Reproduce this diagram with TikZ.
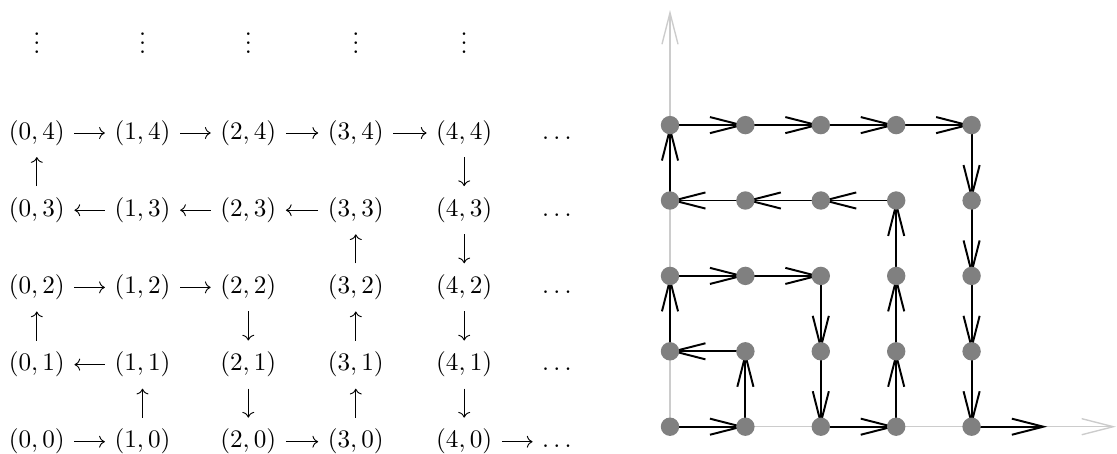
\documentclass[tikz,border=0pt,11pt]{standalone}
\usepackage{amsmath}
\usetikzlibrary{arrows.meta,backgrounds}
\definecolor{axisgray}{gray}{0.8}
\definecolor{dotgray}{gray}{0.5}
\tikzset{
  pairnode/.style={inner sep=0pt, text height=8.2pt, text depth=2.75pt},
  vdotnode/.style={inner sep=0pt, anchor=base},
  cellarrow/.style={-{To}, line width=0.4pt, shorten <=4pt, shorten >=4pt},
  colarrow/.style={-{To}, line width=0.4pt, shorten <=4.8pt, shorten >=4.8pt},
  latticept/.style={circle, fill=dotgray, inner sep=0pt, minimum size=8pt},
  walkarrow/.style={-{Straight Barb[length=13.7pt,width=7pt]}, line width=0.85pt},
  axisarrow/.style={-{Straight Barb[length=13.7pt,width=7pt]}, line width=0.6pt, draw=axisgray}
}

\begin{document}
\begin{tikzpicture}[x=0.4348pt, y=-0.4348pt]
  \useasboundingbox (0,0) rectangle (1117,453);
  % left: the table of pairs
  \node[vdotnode] (vd0) at (36.8,53.5) {$\vdots$};
  \node[vdotnode] (vd1) at (142.5,53.5) {$\vdots$};
  \node[vdotnode] (vd2) at (248.3,53.5) {$\vdots$};
  \node[vdotnode] (vd3) at (355.8,53.5) {$\vdots$};
  \node[vdotnode] (vd4) at (464.2,53.5) {$\vdots$};
  \node[pairnode] (c04) at (36.8,133) {$(0,4)$};
  \node[pairnode] (c14) at (142.5,133) {$(1,4)$};
  \node[pairnode] (c24) at (248.3,133) {$(2,4)$};
  \node[pairnode] (c34) at (355.8,133) {$(3,4)$};
  \node[pairnode] (c44) at (464.2,133) {$(4,4)$};
  \node[pairnode] (dd4) at (559,133) {$\dots$};
  \node[pairnode] (c03) at (36.8,210.2) {$(0,3)$};
  \node[pairnode] (c13) at (142.5,210.2) {$(1,3)$};
  \node[pairnode] (c23) at (248.3,210.2) {$(2,3)$};
  \node[pairnode] (c33) at (355.8,210.2) {$(3,3)$};
  \node[pairnode] (c43) at (464.2,210.2) {$(4,3)$};
  \node[pairnode] (dd3) at (559,210.2) {$\dots$};
  \node[pairnode] (c02) at (36.8,287.4) {$(0,2)$};
  \node[pairnode] (c12) at (142.5,287.4) {$(1,2)$};
  \node[pairnode] (c22) at (248.3,287.4) {$(2,2)$};
  \node[pairnode] (c32) at (355.8,287.4) {$(3,2)$};
  \node[pairnode] (c42) at (464.2,287.4) {$(4,2)$};
  \node[pairnode] (dd2) at (559,287.4) {$\dots$};
  \node[pairnode] (c01) at (36.8,364.6) {$(0,1)$};
  \node[pairnode] (c11) at (142.5,364.6) {$(1,1)$};
  \node[pairnode] (c21) at (248.3,364.6) {$(2,1)$};
  \node[pairnode] (c31) at (355.8,364.6) {$(3,1)$};
  \node[pairnode] (c41) at (464.2,364.6) {$(4,1)$};
  \node[pairnode] (dd1) at (559,364.6) {$\dots$};
  \node[pairnode] (c00) at (36.8,441.7) {$(0,0)$};
  \node[pairnode] (c10) at (142.5,441.7) {$(1,0)$};
  \node[pairnode] (c20) at (248.3,441.7) {$(2,0)$};
  \node[pairnode] (c30) at (355.8,441.7) {$(3,0)$};
  \node[pairnode] (c40) at (464.2,441.7) {$(4,0)$};
  \node[pairnode] (dd0) at (559,441.7) {$\dots$};
  \draw[cellarrow] (c04) -- (c14);
  \draw[cellarrow] (c14) -- (c24);
  \draw[cellarrow] (c24) -- (c34);
  \draw[cellarrow] (c34) -- (c44);
  \draw[colarrow] (c03) -- (c04);
  \draw[colarrow] (c44) -- (c43);
  \draw[cellarrow] (c13) -- (c03);
  \draw[cellarrow] (c23) -- (c13);
  \draw[cellarrow] (c33) -- (c23);
  \draw[colarrow] (c32) -- (c33);
  \draw[colarrow] (c43) -- (c42);
  \draw[cellarrow] (c02) -- (c12);
  \draw[cellarrow] (c12) -- (c22);
  \draw[colarrow] (c01) -- (c02);
  \draw[colarrow] (c22) -- (c21);
  \draw[colarrow] (c31) -- (c32);
  \draw[colarrow] (c42) -- (c41);
  \draw[cellarrow] (c11) -- (c01);
  \draw[colarrow] (c10) -- (c11);
  \draw[colarrow] (c21) -- (c20);
  \draw[colarrow] (c30) -- (c31);
  \draw[colarrow] (c41) -- (c40);
  \draw[cellarrow] (c00) -- (c10);
  \draw[cellarrow] (c20) -- (c30);
  \draw[cellarrow] (c40) -- (dd0);
  % right: the walk through the lattice
  \node[latticept] (v00) at (670,426.7) {};
  \node[latticept] (v10) at (745.4,426.7) {};
  \node[latticept] (v20) at (820.8,426.7) {};
  \node[latticept] (v30) at (896.2,426.7) {};
  \node[latticept] (v40) at (971.6,426.7) {};
  \node[latticept] (v01) at (670,351.3) {};
  \node[latticept] (v11) at (745.4,351.3) {};
  \node[latticept] (v21) at (820.8,351.3) {};
  \node[latticept] (v31) at (896.2,351.3) {};
  \node[latticept] (v41) at (971.6,351.3) {};
  \node[latticept] (v02) at (670,275.9) {};
  \node[latticept] (v12) at (745.4,275.9) {};
  \node[latticept] (v22) at (820.8,275.9) {};
  \node[latticept] (v32) at (896.2,275.9) {};
  \node[latticept] (v42) at (971.6,275.9) {};
  \node[latticept] (v03) at (670,200.5) {};
  \node[latticept] (v13) at (745.4,200.5) {};
  \node[latticept] (v23) at (820.8,200.5) {};
  \node[latticept] (v33) at (896.2,200.5) {};
  \node[latticept] (v43) at (971.6,200.5) {};
  \node[latticept] (v04) at (670,125.1) {};
  \node[latticept] (v14) at (745.4,125.1) {};
  \node[latticept] (v24) at (820.8,125.1) {};
  \node[latticept] (v34) at (896.2,125.1) {};
  \node[latticept] (v44) at (971.6,125.1) {};
  \coordinate (ytip) at (670,10);
  \coordinate (xtip) at (1116,426.7);
  \coordinate (wend) at (1047.3,426.7);
  \begin{scope}[on background layer]
    \draw[axisarrow] (v00.center) -- (ytip);
    \draw[axisarrow] (v00.center) -- (xtip);
    \draw[walkarrow] (v00.center) -- (v10.center);
    \draw[walkarrow] (v10.center) -- (v11.center);
    \draw[walkarrow] (v11.center) -- (v01.center);
    \draw[walkarrow] (v01.center) -- (v02.center);
    \draw[walkarrow] (v02.center) -- (v12.center);
    \draw[walkarrow] (v12.center) -- (v22.center);
    \draw[walkarrow] (v22.center) -- (v21.center);
    \draw[walkarrow] (v21.center) -- (v20.center);
    \draw[walkarrow] (v20.center) -- (v30.center);
    \draw[walkarrow] (v30.center) -- (v31.center);
    \draw[walkarrow] (v31.center) -- (v32.center);
    \draw[walkarrow] (v32.center) -- (v33.center);
    \draw[walkarrow] (v33.center) -- (v23.center);
    \draw[walkarrow] (v23.center) -- (v13.center);
    \draw[walkarrow] (v13.center) -- (v03.center);
    \draw[walkarrow] (v03.center) -- (v04.center);
    \draw[walkarrow] (v04.center) -- (v14.center);
    \draw[walkarrow] (v14.center) -- (v24.center);
    \draw[walkarrow] (v24.center) -- (v34.center);
    \draw[walkarrow] (v34.center) -- (v44.center);
    \draw[walkarrow] (v44.center) -- (v43.center);
    \draw[walkarrow] (v43.center) -- (v42.center);
    \draw[walkarrow] (v42.center) -- (v41.center);
    \draw[walkarrow] (v41.center) -- (v40.center);
    \draw[walkarrow] (v40.center) -- (wend);
  \end{scope}
\end{tikzpicture}
\end{document}
